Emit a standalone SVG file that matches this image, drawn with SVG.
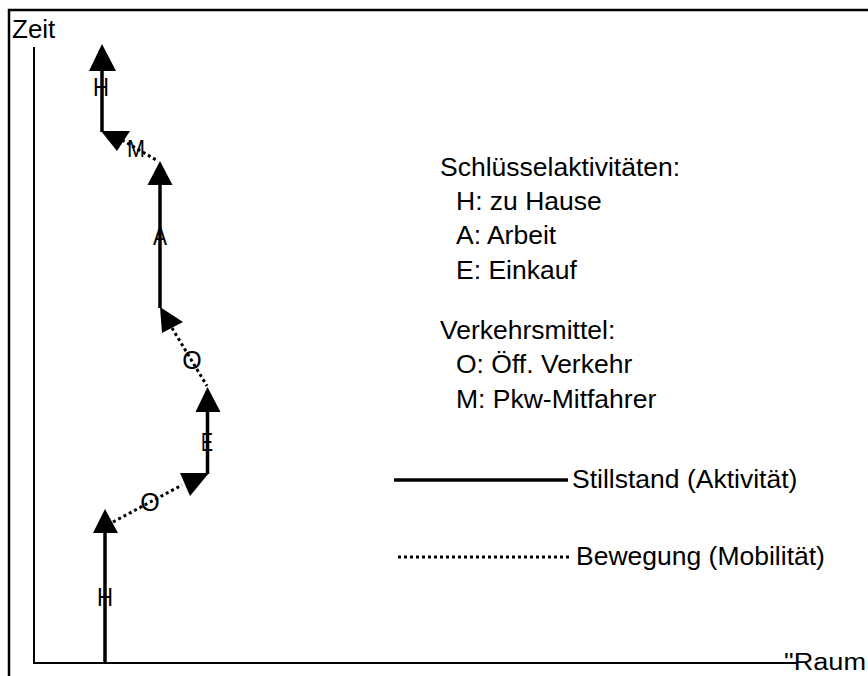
<svg xmlns="http://www.w3.org/2000/svg" width="868" height="676" viewBox="0 0 868 676">
<style>
  text { font-family: "Liberation Sans", Arial, sans-serif; fill: #000; }
  .t { font-size: 26.5px; }
  .lbl { font-size: 25px; text-anchor: middle; }
  .solid { stroke: #000; stroke-width: 3.5; fill: none; }
  .dot { stroke: #000; stroke-width: 3; fill: none; stroke-dasharray: 3 3; }
  .axis { stroke: #000; stroke-width: 2; fill: none; }
  .head { fill: #000; stroke: none; }
</style>
<rect x="0" y="0" width="868" height="676" fill="#fff"/>
<path d="M9,677 V10 H870" stroke="#000" stroke-width="2.5" fill="none"/>
<g id="axes">
  <path class="axis" d="M34,47 V663 H798"/>
  <text x="12" y="38" font-size="26">Zeit</text>
  <text x="784" y="670" font-size="23" textLength="82" lengthAdjust="spacingAndGlyphs">"Raum</text>
</g>
<g id="connectors">
  <path class="dot" d="M113,522 L182,485"/>
  <path class="dot" d="M172,328 L207,386"/>
  <path class="dot" d="M122,140 L158,161"/>
</g>
<g id="home-start">
  <path class="solid" d="M105,663 V532"/>
  <polygon class="head" points="105,509 93,533 118,533"/>
  <text class="lbl" x="105" y="606" textLength="16" lengthAdjust="spacingAndGlyphs">H</text>
</g>
<g id="oev-1">
  <text class="lbl" x="150" y="511" font-size="25">O</text>
</g>
<g id="einkauf">
  <polygon class="head" points="180,473 209,473 190,496"/>
  <path class="solid" d="M207.5,474 V410"/>
  <polygon class="head" points="207.5,387 195.5,412 220.5,412"/>
  <text class="lbl" x="207" y="451" textLength="12" lengthAdjust="spacingAndGlyphs">E</text>
</g>
<g id="oev-2">
  <text class="lbl" x="192" y="369" font-size="25">O</text>
</g>
<g id="arbeit">
  <polygon class="head" points="160,307 183,322 162,333"/>
  <path class="solid" d="M160,308 V183"/>
  <polygon class="head" points="160,161 147.5,185 172.5,185"/>
  <text class="lbl" x="160" y="245" textLength="14" lengthAdjust="spacingAndGlyphs">A</text>
</g>
<g id="mitfahrer">
  <text x="127" y="157" font-size="24" textLength="18" lengthAdjust="spacingAndGlyphs">M</text>
</g>
<g id="home-end">
  <polygon class="head" points="101,131 130,131 117,151"/>
  <path class="solid" d="M102,132 V70"/>
  <polygon class="head" points="102,44 89,71 116,71"/>
  <text class="lbl" x="101" y="96" textLength="16" lengthAdjust="spacingAndGlyphs">H</text>
</g>
<g id="legend">
  <text class="t" x="440" y="176">Schlüsselaktivitäten:</text>
  <text class="t" x="456" y="210">H: zu Hause</text>
  <text class="t" x="456" y="244">A: Arbeit</text>
  <text class="t" x="456" y="279">E: Einkauf</text>
  <text class="t" x="440" y="339">Verkehrsmittel:</text>
  <text class="t" x="456" y="373">O: Öff. Verkehr</text>
  <text class="t" x="456" y="408">M: Pkw-Mitfahrer</text>
</g>
<g id="legend-lines">
  <path class="solid" d="M394,480 H568"/>
  <text class="t" x="572" y="488">Stillstand (Aktivität)</text>
  <path class="dot" d="M398,557 H572" stroke-width="2.5"/>
  <text class="t" x="576" y="565">Bewegung (Mobilität)</text>
</g>
</svg>
